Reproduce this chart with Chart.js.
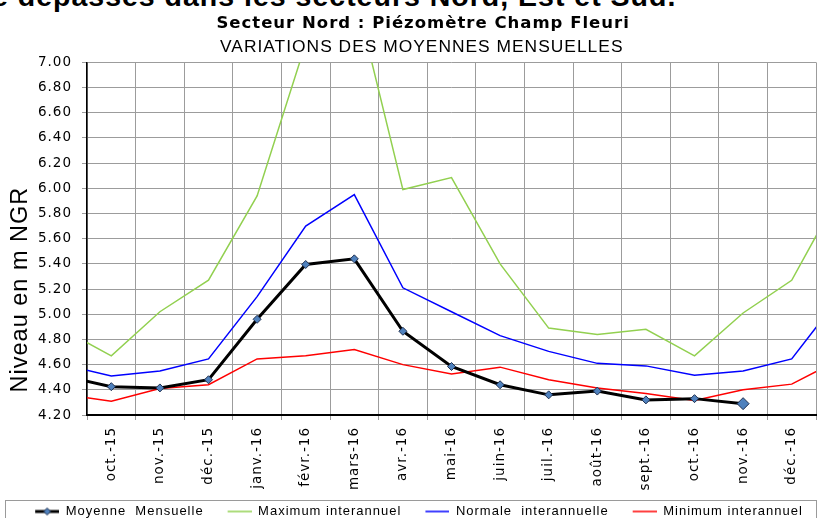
<!DOCTYPE html>
<html lang="fr">
<head>
<meta charset="utf-8">
<title>Piézomètre Champ Fleuri</title>
<script src="https://cdn.jsdelivr.net/npm/chart.js@4.4.1/dist/chart.umd.min.js"></script>
<style>
  html, body { margin: 0; padding: 0; background: #fff; overflow: hidden; }
  #page { position: relative; width: 821px; height: 518px; overflow: hidden; }
  #topline {
    position: absolute; left: -8px; top: -20px;
    font: bold 28.5px "Liberation Sans", Arial, sans-serif;
    letter-spacing: 1px; white-space: nowrap; color: #000;
  }
  canvas { position: absolute; left: 0; top: 0; }
</style>
</head>
<body>
<div id="page">
  <div id="topline">é dépassés dans les secteurs Nord, Est et Sud.</div>
  <canvas id="chart" width="821" height="528"></canvas>
</div>
<script>
// mois affichés sur l'axe (positions 0..14)
const months = ["oct.-15", "nov.-15", "déc.-15", "janv.-16", "févr.-16", "mars-16", "avr.-16",
  "mai-16", "juin-16", "juil.-16", "août-16", "sept.-16", "oct.-16", "nov.-16", "déc.-16"];

// positions des valeurs : -1 = sept.-15 et 15 = janv.-17 (hors cadre, coupées)
const positions = [-1, 0, 1, 2, 3, 4, 5, 6, 7, 8, 9, 10, 11, 12, 13, 14, 15];

const moyenne = [4.51, 4.425, 4.415, 4.48, 4.96, 5.395, 5.44, 4.865, 4.585, 4.44, 4.36, 4.39, 4.32, 4.33, 4.29, null, null];
const maximum = [4.88, 4.67, 5.02, 5.27, 5.94, 7.15, 7.57, 5.99, 6.085, 5.40, 4.89, 4.84, 4.88, 4.67, 5.01, 5.27, 5.97];
const normale = [4.60, 4.51, 4.55, 4.645, 5.14, 5.70, 5.95, 5.21, 5.02, 4.83, 4.705, 4.61, 4.59, 4.515, 4.55, 4.645, 5.145];
const minimum = [4.365, 4.31, 4.41, 4.44, 4.645, 4.67, 4.72, 4.60, 4.525, 4.58, 4.48, 4.415, 4.37, 4.315, 4.40, 4.445, 4.645];

const yMin = 4.2, yMax = 7.0, yStep = 0.2;

function toPoints(values) {
  return positions.map((x, i) => ({ x: x, y: values[i] }));
}

// symboles de légende : un blanc à gauche puis le trait (et le losange pour la moyenne)
function legendIcon(color, lineWidth, diamond) {
  const icon = document.createElement("canvas");
  icon.width = 36;
  icon.height = 10;
  const c = icon.getContext("2d");
  c.strokeStyle = color;
  c.lineWidth = lineWidth;
  c.beginPath(); c.moveTo(12, 5); c.lineTo(36, 5); c.stroke();
  if (diamond) {
    c.fillStyle = "#4f81bd";
    c.strokeStyle = "#1f3050";
    c.lineWidth = 1;
    c.beginPath(); c.moveTo(24, 1.5); c.lineTo(27.5, 5); c.lineTo(24, 8.5); c.lineTo(20.5, 5); c.closePath();
    c.fill(); c.stroke();
  }
  return icon;
}

// espacement des lettres comme dans le graphique Excel d'origine
const spacing = {
  id: "spacing",
  beforeLayout(chart) { chart.ctx.letterSpacing = "1px"; },
  beforeDraw(chart) { chart.ctx.letterSpacing = "1px"; }
};

// cadre gris autour de la légende
const legendFrame = {
  id: "legendFrame",
  afterDraw(chart) {
    const ctx = chart.ctx;
    ctx.save();
    ctx.strokeStyle = "#9a9a9a";
    ctx.lineWidth = 1;
    ctx.strokeRect(5.5, chart.legend.top + 7.5, chart.width - 10, 40);
    ctx.restore();
  }
};

Chart.defaults.color = "#000";
Chart.defaults.font.family = "'Liberation Sans', Arial, sans-serif";

const gridGray = "#9c9c9c";
const tickFont = { family: "'DejaVu Sans', sans-serif", size: 13.5 };

new Chart(document.getElementById("chart"), {
  type: "line",
  data: {
    datasets: [
      {
        label: "Moyenne  Mensuelle",
        data: toPoints(moyenne),
        borderColor: "#000",
        borderWidth: 3,
        pointStyle: "rectRot",
        pointRadius: [0, 4, 4, 4, 4, 4, 4, 4, 4, 4, 4, 4, 4, 4, 6, 0, 0],
        pointBackgroundColor: "#4f81bd",
        pointBorderColor: "#1f3050",
        pointBorderWidth: 1,
        legendIcon: legendIcon("#000", 3, true)
      },
      { label: "Maximum interannuel", data: toPoints(maximum), borderColor: "#92d050", borderWidth: 1.5, pointRadius: 0,
        legendIcon: legendIcon("#92d050", 1.5) },
      { label: "Normale  interannuelle", data: toPoints(normale), borderColor: "#0000ff", borderWidth: 1.5, pointRadius: 0,
        legendIcon: legendIcon("#0000ff", 1.5) },
      { label: "Minimum interannuel", data: toPoints(minimum), borderColor: "#ff0000", borderWidth: 1.5, pointRadius: 0,
        legendIcon: legendIcon("#ff0000", 1.5) }
    ]
  },
  options: {
    responsive: false,
    animation: false,
    clip: 0,
    tension: 0,
    layout: { padding: { left: 10, right: 5, top: 0, bottom: 0 } },
    plugins: {
      tooltip: { enabled: false },
      title: {
        display: true,
        text: "   Secteur Nord : Piézomètre Champ Fleuri",
        font: { family: "'DejaVu Sans', sans-serif", size: 16.5, weight: "bold", lineHeight: 1.2 },
        padding: { top: 13.5, bottom: 0 }
      },
      subtitle: {
        display: true,
        text: "   VARIATIONS DES MOYENNES MENSUELLES",
        color: "#000",
        font: { size: 17.4, lineHeight: 1.2 },
        padding: { top: 3.5, bottom: 4.7 }
      },
      legend: {
        position: "bottom",
        labels: {
          font: { size: 13 },
          usePointStyle: true,
          pointStyleWidth: 36,
          padding: 12,
          generateLabels(chart) {
            const items = Chart.defaults.plugins.legend.labels.generateLabels(chart);
            items.forEach((item) => {
              item.pointStyle = chart.data.datasets[item.datasetIndex].legendIcon;
            });
            return items;
          }
        }
      }
    },
    scales: {
      x: {
        type: "linear",
        min: -0.5,
        max: 14.5,
        afterBuildTicks(scale) {
          const ticks = [];
          for (let v = -0.5; v <= 14.5; v += 0.5) ticks.push({ value: v });
          scale.ticks = ticks;
        },
        afterFit(scale) {
          scale.height = 78;
          scale.paddingLeft = 0;
          scale.paddingRight = 0;
        },
        border: { color: "#000", width: 2 },
        grid: {
          color: (c) => (Number.isInteger(c.tick.value) ? "rgba(0,0,0,0)" : gridGray),
          tickColor: (c) => (Number.isInteger(c.tick.value) ? "rgba(0,0,0,0)" : gridGray),
          tickLength: 5
        },
        ticks: {
          autoSkip: false,
          minRotation: 90,
          maxRotation: 90,
          padding: 7,
          font: tickFont,
          callback: (v) => (Number.isInteger(v) ? months[v] : "")
        }
      },
      y: {
        min: yMin,
        max: yMax,
        afterFit(scale) { scale.width = 77; },
        border: { color: "#000", width: 1.5 },
        grid: { color: gridGray, tickColor: gridGray, tickLength: 5 },
        ticks: {
          stepSize: yStep,
          padding: 10,
          font: tickFont,
          callback: (v) => v.toFixed(2)
        },
        title: {
          display: true,
          align: "start",
          text: "   Niveau en m NGR",
          font: { size: 23.5, lineHeight: 1 },
          padding: { top: -0.75, bottom: 0 }
        }
      }
    }
  },
  plugins: [spacing, legendFrame]
});
</script>
</body>
</html>
